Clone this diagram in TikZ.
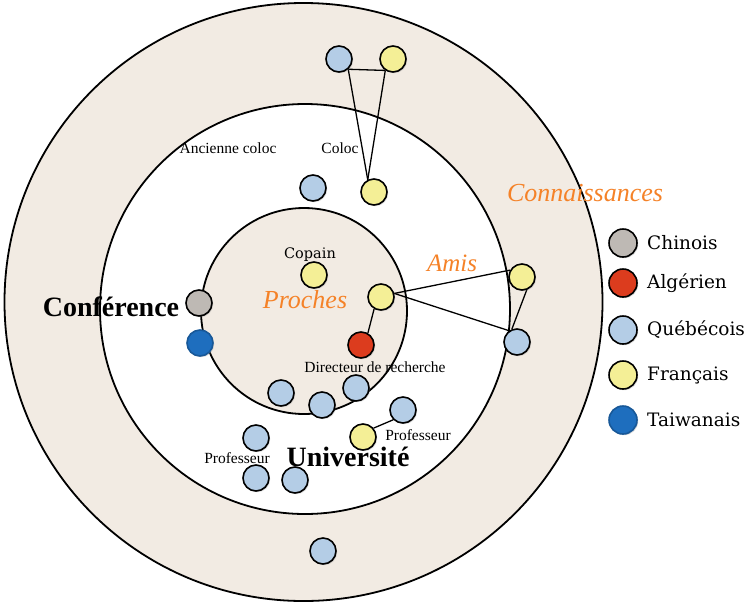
\documentclass[tikz,border=0pt]{standalone}
\usepackage{fontspec}
\setmainfont{Liberation Serif}
\newfontfamily\legfont{DejaVu Serif}
\usetikzlibrary{shadows,backgrounds}
\pgfdeclarelayer{links}
\pgfsetlayers{background,links,main}
\definecolor{beige}{HTML}{F2EBE3}
\definecolor{qcblue}{HTML}{B4CDE6}
\definecolor{fryellow}{HTML}{F4EF96}
\definecolor{dzred}{HTML}{DC3C1E}
\definecolor{cngray}{HTML}{BEB9B4}
\definecolor{twblue}{HTML}{1E6EBE}
\definecolor{orangetxt}{HTML}{F58228}
\tikzset{
  ring/.style={draw=black, line width=1.8pt},
  pers/.style={circle, draw=black, line width=1.6pt, minimum size=26pt, inner sep=0pt,
    drop shadow={opacity=0.3, shadow xshift=1.2pt, shadow yshift=-1.2pt}},
  qc/.style={pers, fill=qcblue},
  fr/.style={pers, fill=fryellow},
  dz/.style={pers, fill=dzred},
  cn/.style={pers, fill=cngray},
  tw/.style={pers, fill=twblue, draw=twblue!80!black},
  leg/.style={minimum size=28pt},
  link/.style={draw=black, line width=1.3pt},
  smalltxt/.style={font=\fontsize{15.5}{18}\selectfont, inner sep=0pt},
  bigtxt/.style={font=\fontsize{28}{32}\selectfont\bfseries, inner sep=0pt},
  zone/.style={font=\fontsize{26}{30}\selectfont\itshape, text=orangetxt, inner sep=0pt},
  legtxt/.style={font=\legfont\fontsize{18.5}{22}\selectfont, anchor=west, inner sep=0pt}
}
\begin{document}
\begin{tikzpicture}[x=1pt,y=-1pt]
\useasboundingbox (0,0) rectangle (749,606);
\begin{pgfonlayer}{background}
\fill[white] (0,0) rectangle (749,606);
\draw[ring, fill=beige] (303.5,302) circle[radius=299pt];
\draw[ring, fill=white] (305,309) circle[radius=205pt];
\draw[ring, fill=beige] (304,311) circle[radius=103pt];
\end{pgfonlayer}

% persons
\node[qc] (q1) at (339,59) {};
\node[fr] (f1) at (393,59) {};
\node[fr] (fcoloc) at (374,192) {};
\node[qc] (qanc) at (313,188) {};
\node[fr] (fcopain) at (314,275) {};
\node[fr] (fp) at (381,297) {};
\node[dz] (dz1) at (361,345) {};
\node[fr] (fa) at (522,277) {};
\node[qc] (qa) at (517,342) {};
\node[cn] (cn1) at (199,303) {};
\node[tw] (tw1) at (200,343) {};
\node[qc] (q2) at (281,393) {};
\node[qc] (q3) at (322,405) {};
\node[qc] (q4) at (356,388) {};
\node[qc] (q5) at (403,410) {};
\node[fr] (fu) at (363,437) {};
\node[qc] (q6) at (256,438) {};
\node[qc] (q7) at (256,478) {};
\node[qc] (q8) at (295,480) {};
\node[qc] (q9) at (323,551) {};

% links
\begin{pgfonlayer}{links}
\draw[link] (q1.-48) -- (f1.-124);
\draw[link] (q1.-48) -- (fcoloc.117);
\draw[link] (f1.-124) -- (fcoloc.117);
\draw[link] (fp.-120) -- (dz1.60);
\draw[link] (fp.15) -- (fa.150);
\draw[link] (fp.15) -- (qa.125);
\draw[link] (fa.-70) -- (qa.112);
\draw[link] (fu.40) -- (q5.-135);
\end{pgfonlayer}

% labels
\node[smalltxt] (lanc) at (228,148) {Ancienne coloc};
\node[smalltxt] (lcoloc) at (340,148) {Coloc};
\node[font=\legfont\fontsize{14.5}{17}\selectfont, inner sep=0pt] (lcopain) at (310,255) {Copain};
\node[smalltxt] (ldir) at (375,367) {Directeur de recherche};
\node[smalltxt] (lprof1) at (418,435) {Professeur};
\node[smalltxt] (lprof2) at (237,458) {Professeur};
\node[bigtxt] (luniv) at (348,457) {Université};
\node[bigtxt] (lconf) at (111,307) {Conférence};
\node[zone] (lproches) at (305,300) {Proches};
\node[zone, font=\fontsize{25}{30}\selectfont\itshape] (lamis) at (452,263) {Amis};
\node[zone] (lconn) at (585,193) {Connaissances};

% legend
\node[cn, leg] (k1) at (623,243) {};
\node[dz, leg] (k2) at (623,283) {};
\node[qc, leg] (k3) at (623,330) {};
\node[fr, leg] (k4) at (623,375) {};
\node[tw, leg] (k5) at (623,420) {};
\node[legtxt] (t1) at (647,243) {Chinois};
\node[legtxt] (t2) at (647,283) {Algérien};
\node[legtxt] (t3) at (647,330) {Québécois};
\node[legtxt] (t4) at (647,375) {Français};
\node[legtxt] (t5) at (647,420) {Taiwanais};
\end{tikzpicture}
\end{document}
